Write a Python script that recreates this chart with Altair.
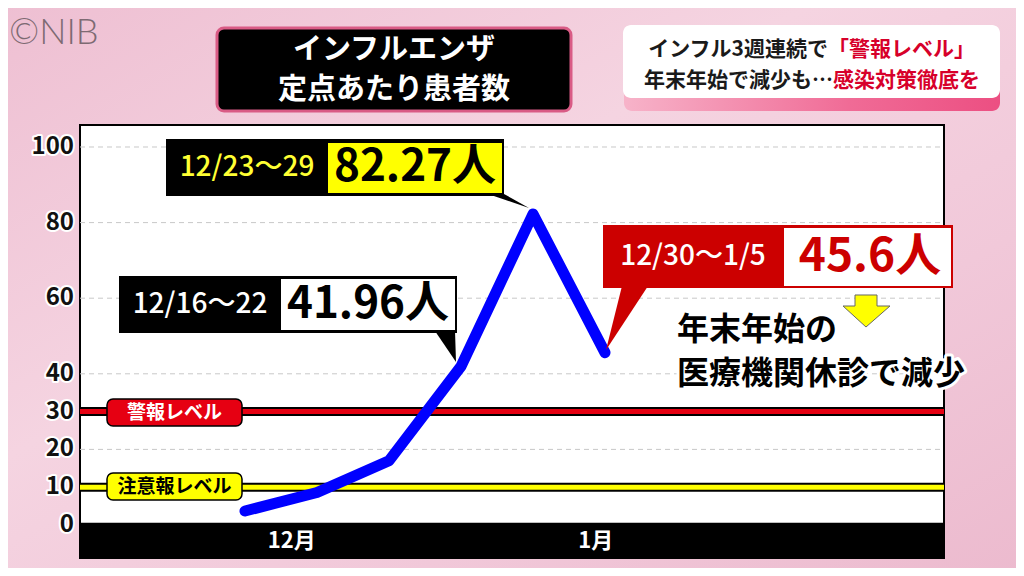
import altair as alt
import pandas as pd

# ---------------- data ----------------
weeks = ["11/25〜12/1", "12/2〜8", "12/9〜15", "12/16〜22", "12/23〜29", "12/30〜1/5"]
week_idx = [0, 1, 2, 3, 4, 5]
patients = [3.7, 8.6, 17.0, 41.96, 82.27, 45.6]
y_ticks = [0, 10, 20, 30, 40, 60, 80, 100]
grid_vals = [20, 40, 60, 80, 100]
months = ["12月", "1月"]
month_pos = [0.65, 4.87]
threshold_vals = [30, 10]
threshold_names = ["警報レベル", "注意報レベル"]
threshold_colors = ["#e60012", "#ffff00"]

title_lines = ["インフルエンザ", "定点あたり患者数"]
headline1 = ["インフル3週連続で", "「警報レベル」"]
headline2 = ["年末年始で減少も…", "感染対策徹底を"]
ann_weeks = ["12/16〜22", "12/23〜29", "12/30〜1/5"]
ann_vals = ["41.96人", "82.27人", "45.6人"]
note_lines = ["年末年始の", "医療機関休診で減少"]
credit = "©NIB"

# ---------------- layout ----------------
OX, OY = 80, 125          # page position of plot area
W, H = 864, 433
XD = [-2.2917, 9.7083]
YD = [-8.73, 105.82]
JP = "Noto Sans CJK JP"

df = pd.DataFrame({"i": week_idx, "v": patients, "week": weeks})
one = pd.DataFrame({"k": [0]})

xs = alt.Scale(domain=XD, nice=False, zero=False)
ys = alt.Scale(domain=YD, nice=False, zero=False)


def P(x):
    return x - OX


def Q(y):
    return y - OY


def box(x1, y1, x2, y2, fill, stroke=None, sw=0, r=0):
    kw = dict(fill=fill, cornerRadius=r)
    if stroke:
        kw.update(stroke=stroke, strokeWidth=sw)
    else:
        kw.update(strokeWidth=0)
    return alt.Chart(one).mark_rect(**kw).encode(
        x=alt.value(P(x1)), x2=alt.value(P(x2)),
        y=alt.value(Q(y1)), y2=alt.value(Q(y2)))


def txt(s, x, y, size, color, weight="bold", align="center", font=JP, halo=None, hw=0):
    d = pd.DataFrame({"t": [s]})
    base = alt.Chart(d).encode(x=alt.value(P(x)), y=alt.value(Q(y)), text="t:N")
    layers = []
    if halo:
        layers.append(base.mark_text(fontSize=size, font=font, fontWeight=weight, align=align,
                                     baseline="middle", color=halo, stroke=halo,
                                     strokeWidth=hw, strokeJoin="round"))
    layers.append(base.mark_text(fontSize=size, font=font, fontWeight=weight, align=align,
                                 baseline="middle", color=color))
    return alt.layer(*layers)


def poly(points, fill, stroke=None, sw=0):
    cx = sum(p[0] for p in points) / len(points)
    cy = sum(p[1] for p in points) / len(points)
    S = 60.0
    path = "M" + " L".join(f"{(x - cx) / S:.4f},{(y - cy) / S:.4f}" for x, y in points) + " Z"
    kw = dict(shape=path, size=(2 * S) ** 2, filled=True, color=fill, opacity=1)
    if stroke:
        kw.update(stroke=stroke, strokeWidth=sw)
    else:
        kw.update(strokeWidth=0)
    return alt.Chart(one).mark_point(**kw).encode(x=alt.value(P(cx)), y=alt.value(Q(cy)))


layers = []

# background gradient
bg = alt.LinearGradient(gradient="linear", x1=0, y1=0, x2=1, y2=1,
                        stops=[alt.GradientStop(color="#eebfd2", offset=0),
                               alt.GradientStop(color="#f5d4e1", offset=0.4),
                               alt.GradientStop(color="#f1c8d9", offset=0.7),
                               alt.GradientStop(color="#ecbace", offset=1)])
layers.append(alt.Chart(one).mark_rect(fill=bg, strokeWidth=0).encode(
    x=alt.value(P(0)), x2=alt.value(P(1024)), y=alt.value(Q(0)), y2=alt.value(Q(576))))

# credit
layers.append(txt(credit, 9, 33, 36, "#7d6a72", weight=300, align="left", font="Lato"))

# plot area
layers.append(box(OX, OY, OX + W, OY + H, "#ffffff", "#000000", 2))

# gridlines
gdf = pd.DataFrame({"v": grid_vals})
layers.append(alt.Chart(gdf).mark_rule(color="#c8c8c8", strokeWidth=1, strokeDash=[5, 4]).encode(
    y=alt.Y("v:Q", scale=ys, axis=None), x=alt.value(0), x2=alt.value(W)))

# bottom black band
bdf = pd.DataFrame({"lo": [YD[0]], "hi": [0.6]})
layers.append(alt.Chart(bdf).mark_rect(color="#000000").encode(
    y=alt.Y("lo:Q", scale=ys, axis=None), y2="hi:Q", x=alt.value(0), x2=alt.value(W)))

# threshold lines
tdf = pd.DataFrame({"v": threshold_vals, "name": threshold_names, "c": threshold_colors})
layers.append(alt.Chart(tdf).mark_rule(color="#000000", strokeWidth=9).encode(
    y=alt.Y("v:Q", scale=ys, axis=None), x=alt.value(0), x2=alt.value(W)))
layers.append(alt.Chart(tdf).mark_rule(strokeWidth=5).encode(
    y=alt.Y("v:Q", scale=ys, axis=None), x=alt.value(0), x2=alt.value(W),
    color=alt.Color("c:N", scale=None)))

# threshold label boxes
layers.append(box(107, 399, 242, 426, threshold_colors[0], "#000000", 1.5, 6))
layers.append(txt(threshold_names[0], 174.5, 412.5, 19, "#ffffff"))
layers.append(box(107, 473, 242, 500, threshold_colors[1], "#000000", 1.5, 6))
layers.append(txt(threshold_names[1], 174.5, 486.5, 19, "#000000"))

# blue line
layers.append(alt.Chart(df).mark_line(color="#0000ff", strokeWidth=11, strokeCap="round",
                                      strokeJoin="round").encode(
    x=alt.X("i:Q", scale=xs, axis=None), y=alt.Y("v:Q", scale=ys, axis=None)))

# annotation 12/16-22
layers.append(poly([(435, 331), (455, 331), (456, 362)], "#000000"))
layers.append(box(119, 276, 457, 333, "#000000"))
layers.append(box(281, 279, 455, 330, "#ffffff"))
layers.append(txt(ann_weeks[0], 200, 305, 28, "#ffffff", weight=500))
layers.append(txt(ann_vals[0], 368, 305, 44, "#000000"))

# annotation 12/23-29
layers.append(poly([(488, 194), (504, 194), (529, 208)], "#000000"))
layers.append(box(166, 139, 504, 196, "#000000"))
layers.append(box(328, 143, 502, 193, "#ffff00"))
layers.append(txt(ann_weeks[1], 247, 168, 28, "#ffff33", weight=500))
layers.append(txt(ann_vals[1], 415, 168, 44, "#000000"))

# annotation 12/30-1/5
layers.append(poly([(622, 286), (648, 286), (606, 350)], "#cc0000"))
layers.append(box(603, 225, 953, 288, "#cc0000"))
layers.append(box(784, 228, 951, 286, "#ffffff"))
layers.append(txt(ann_weeks[2], 693, 257, 28, "#ffffff", weight=500))
layers.append(txt(ann_vals[2], 870, 257, 46, "#cc0000"))

# yellow arrow
layers.append(poly([(855, 295), (877, 295), (877, 306), (890, 306), (866, 327), (843, 306), (855, 306)],
                   "#ffff00", "#666666", 1))

# note text
layers.append(txt(note_lines[0], 677, 330, 32, "#000000", align="left", halo="#ffffff", hw=6))
layers.append(txt(note_lines[1], 677, 374, 32, "#000000", align="left", halo="#ffffff", hw=6))

# title box
layers.append(box(217, 28, 571, 111, "#000000", "#d95b85", 3, 7))
layers.append(txt(title_lines[0], 394, 50, 29, "#ffffff"))
layers.append(txt(title_lines[1], 394, 90, 29, "#ffffff"))

# headline box
hg = alt.LinearGradient(gradient="linear", x1=0, y1=0, x2=1, y2=0,
                        stops=[alt.GradientStop(color="#f7b3c9", offset=0),
                               alt.GradientStop(color="#f06b96", offset=0.6),
                               alt.GradientStop(color="#ec4f82", offset=1)])
layers.append(alt.Chart(one).mark_rect(fill=hg, strokeWidth=0, cornerRadius=8).encode(
    x=alt.value(P(624)), x2=alt.value(P(1000)), y=alt.value(Q(60)), y2=alt.value(Q(111))))
layers.append(box(623, 25, 1000, 98, "#ffffff", None, 0, 8))
layers.append(txt(headline1[0], 828, 50, 21, "#1a1a1a", align="right"))
layers.append(txt(headline1[1], 828, 50, 21, "#d7002a", align="left"))
layers.append(txt(headline2[0], 833, 81, 21, "#1a1a1a", align="right"))
layers.append(txt(headline2[1], 833, 81, 21, "#d7002a", align="left"))

# y tick labels with halo
ydf = pd.DataFrame({"v": y_ticks, "t": [str(v) for v in y_ticks]})
ybase = alt.Chart(ydf).encode(y=alt.Y("v:Q", scale=ys, axis=None), x=alt.value(P(74)), text="t:N")
layers.append(ybase.mark_text(fontSize=24, font=JP, fontWeight="bold", align="right", baseline="middle",
                              color="#ffffff", stroke="#ffffff", strokeWidth=4, strokeJoin="round"))
layers.append(ybase.mark_text(fontSize=24, font=JP, fontWeight="bold", align="right", baseline="middle",
                              color="#111111"))

# month labels
mdf = pd.DataFrame({"i": month_pos, "t": months})
layers.append(alt.Chart(mdf).mark_text(fontSize=22, font=JP, fontWeight="bold", color="#ffffff",
                                       baseline="middle").encode(
    x=alt.X("i:Q", scale=xs, axis=None), y=alt.value(Q(541)), text="t:N"))

chart = alt.layer(*layers).properties(
    width=W, height=H,
    autosize=alt.AutoSizeParams(type="none"),
    padding={"left": OX - 8, "top": OY - 8, "right": 1016 - OX - W, "bottom": 568 - OY - H},
    background="#f1c7d8",
).configure_view(stroke=None)

chart.save("out.html", embed_options={"renderer": "svg", "actions": False})
